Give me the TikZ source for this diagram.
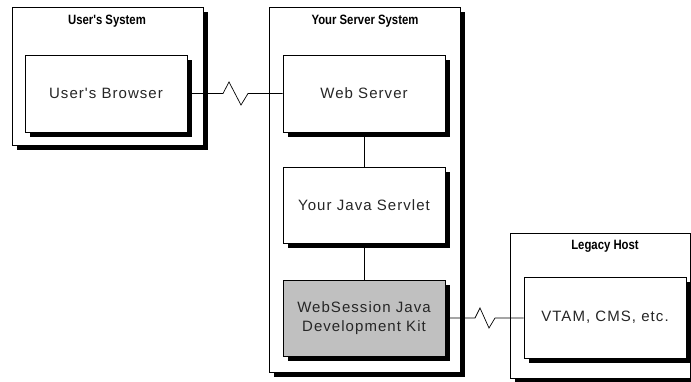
\documentclass[tikz,border=0pt]{standalone}
\usepackage{fontspec}
\setmainfont{Liberation Sans}
\newfontfamily\boxfont[LetterSpace=7]{Liberation Sans}
\newfontfamily\titlefont[FakeStretch=0.84]{Liberation Sans}
\usetikzlibrary{shadows}
\definecolor{kitgray}{HTML}{C0C0C0}
\tikzset{
  shadowbox/.style={draw=black, line width=0.7pt, fill=white, inner sep=0pt,
    drop shadow={shadow xshift=4.5pt, shadow yshift=-4.5pt, fill=black, opacity=1}},
  innerbox/.style={shadowbox, align=center, font=\boxfont\fontsize{15}{19}\selectfont, text=black!85},
  titletext/.style={font=\titlefont\bfseries\fontsize{13.5}{16}\selectfont, inner sep=0pt},
  wire/.style={draw=black, line width=0.7pt}
}
\begin{document}
\begin{tikzpicture}[x=1pt,y=-1pt]
\useasboundingbox (0,0) rectangle (691,381);
% outer systems
\node[shadowbox, minimum width=191pt, minimum height=138pt] (usersys) at (107.5,76) {};
\node[shadowbox, minimum width=191pt, minimum height=365pt] (serversys) at (364.5,189.5) {};
\node[shadowbox, minimum width=180pt, minimum height=145pt] (legacy) at (600,305.5) {};
% titles
\node[titletext] (t1) at (107,21) {User's System};
\node[titletext] (t2) at (365,21) {Your Server System};
\node[titletext] (t3) at (605,246) {Legacy Host};
% inner boxes
\node[innerbox, minimum width=162pt, minimum height=77pt] (browser) at (106,93.5) {User's Browser};
\node[innerbox, minimum width=162pt, minimum height=77pt] (web) at (364,93.5) {Web Server};
\node[innerbox, minimum width=162pt, minimum height=76pt] (servlet) at (364,205) {Your Java Servlet};
\node[innerbox, fill=kitgray, minimum width=162pt, minimum height=76pt] (kit) at (364,318) {WebSession Java\\Development Kit};
\node[innerbox, minimum width=162pt, minimum height=81pt] (vtam) at (605,317.5) {VTAM, CMS, etc.};
% connectors
\draw[wire] (web.south) -- (servlet.north);
\draw[wire] (servlet.south) -- (kit.north);
\draw[wire] (browser.east) -- (223,93.5) -- (229,82) -- (241,105) -- (248,93.5) -- (web.west);
\draw[wire] (kit.east) -- (475,318) -- (480,308) -- (489,328) -- (495,318) -- (vtam.west |- kit.east);
\end{tikzpicture}
\end{document}
